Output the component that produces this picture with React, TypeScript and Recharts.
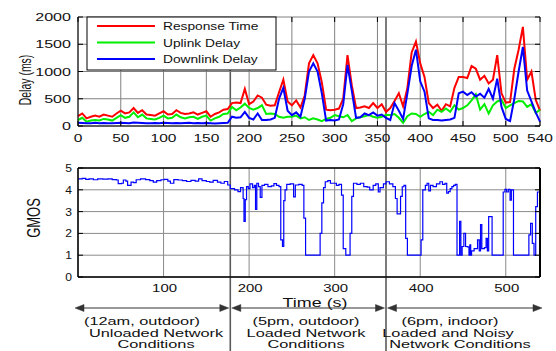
import React from 'react';
import { LineChart, Line, XAxis, YAxis, CartesianGrid } from 'recharts';

// delay traces are sampled every 5 s from 0 to 540 s
const SAMPLE_STEP = 5;

const responseTime = [
  180, 230, 140, 170, 190, 170, 210, 190, 170, 230, 280, 230, 250, 330, 240, 290, 210, 200,
  190, 230, 270, 210, 220, 290, 240, 220, 230, 250, 210, 240, 270, 170, 220, 250, 300, 310,
  420, 430, 420, 680, 400, 450, 560, 520, 390, 370, 380, 620, 850, 450, 380, 470, 340, 560,
  1150, 1300, 1150, 800, 300, 290, 300, 320, 500, 1300, 750, 330, 340, 360, 330, 420, 330, 400, 260,
  330, 460, 600, 360, 700, 1350, 1550, 1150, 900, 420, 330, 390, 280, 400, 360, 700, 900, 900,
  880, 1100, 1050, 850, 920, 780, 850, 1300, 600, 430, 440, 1050, 1400, 1820, 850, 1000, 480, 280,
];

const uplinkDelay = [
  110, 150, 80, 100, 110, 100, 130, 120, 100, 150, 200, 150, 170, 250, 160, 210, 140, 130,
  120, 150, 190, 140, 150, 210, 160, 140, 160, 170, 130, 170, 190, 100, 140, 170, 220, 230,
  350, 290, 340, 410, 330, 300, 330, 380, 220, 230, 220, 170, 150, 170, 170, 190, 140, 160,
  110, 140, 120, 90, 130, 150, 200, 180, 160, 200, 90, 140, 160, 180, 200, 170, 150, 170, 200,
  200, 220, 150, 60, 180, 230, 220, 170, 220, 260, 200, 300, 260, 320, 260, 380, 300, 330,
  380, 470, 580, 300, 400, 230, 380, 450, 480, 330, 380, 420, 460, 450, 350, 400, 240, 300,
];

const downlinkDelay = [
  60, 55, 50, 50, 60, 50, 55, 50, 50, 55, 60, 55, 50, 65, 60, 55, 50, 50,
  55, 50, 60, 55, 50, 55, 50, 55, 60, 50, 55, 50, 55, 50, 45, 50, 55, 60,
  170, 150, 160, 260, 150, 120, 230, 110, 110, 120, 150, 500, 700, 280, 200, 250, 170, 500,
  1000, 1150, 1000, 600, 100, 110, 100, 120, 400, 1120, 650, 150, 160, 230, 200, 250, 190, 210, 150,
  110, 420, 280, 130, 600, 1100, 1400, 820, 630, 140, 110, 110, 100, 110, 120, 150, 600, 630,
  570, 620, 540, 590, 520, 680, 500, 870, 350, 130, 90, 500, 1000, 1450, 650, 450, 250, 80,
];

// GMOS changes in steps: time (s) where each level starts, and the level
const gmosTime = [
  0, 5, 9, 13, 18, 23, 29, 35, 40, 45, 47, 51, 53, 56, 58, 62, 65, 68, 73, 79, 84, 88, 92, 97,
  101, 105, 108, 112, 117, 122, 127, 132, 137, 141, 145, 150, 154, 158, 163, 167, 171, 175, 178,
  183, 187, 190, 193, 194, 195.5, 197, 199, 201, 204, 206, 207.5, 209, 211, 213, 215, 218, 222,
  226, 229, 232, 235, 237, 239, 240.5, 242, 244, 248, 252, 254, 258, 262, 264, 266, 283, 285, 287,
  289, 292, 295, 299, 302, 305, 308, 310, 313, 318, 320, 322, 326, 330, 334, 338, 341, 345, 348,
  351, 353, 357, 360, 364, 368, 371, 373, 377, 379, 381, 383, 385, 401, 403, 406, 408, 410, 412,
  415, 419, 423, 426, 429, 431, 433, 435, 437, 439, 441, 443, 446, 447.5, 449, 451, 453, 455, 457,
  458, 459, 460, 463, 467, 469, 470.5, 472, 475, 477, 478.5, 480, 484, 497, 499, 501, 503, 505,
  506.5, 509, 527, 529, 531, 533, 535, 537, 540,
];

const gmosValue = [
  4.5, 4.52, 4.48, 4.5, 4.46, 4.5, 4.49, 4.5, 4.47, 4.45, 4.28, 4.3, 4.45, 4.4, 4.2, 4.35, 4.33,
  4.46, 4.5, 4.47, 4.42, 4.35, 4.42, 4.46, 4.48, 4.4, 4.3, 4.47, 4.45, 4.42, 4.38, 4.43, 4.4, 4.5,
  4.42, 4.38, 4.35, 4.43, 4.35, 4.3, 4.38, 4.22, 4.05, 4.0, 3.92, 4.1, 3.6, 2.55, 3.55, 4.15, 4.05,
  4.27, 4.1, 4.2, 3.1, 4.3, 4.15, 3.65, 4.2, 4.25, 4.15, 4.18, 4.28, 4.2, 4.15, 1.7, 1.4, 3.5, 4.0,
  4.25, 4.27, 3.68, 4.22, 4.25, 4.2, 2.7, 1.0, 2.0, 3.4, 4.1, 4.37, 4.42, 4.3, 4.3, 4.2, 4.25,
  3.76, 1.3, 1.0, 2.0, 3.7, 4.3, 4.25, 4.3, 4.15, 4.12, 4.0, 4.2, 4.27, 3.9, 4.1, 4.27, 4.37,
  4.27, 4.15, 3.6, 2.9, 3.7, 4.14, 4.2, 1.77, 1.0, 1.7, 4.0, 4.2, 4.3, 3.95, 4.2, 4.15, 4.27,
  4.37, 4.25, 4.3, 3.85, 3.92, 4.05, 4.15, 4.2, 4.25, 1.0, 2.55, 1.0, 1.4, 2.0, 1.4, 1.38, 1.0,
  1.47, 1.0, 1.2, 1.3, 1.7, 1.2, 2.4, 1.3, 1.35, 1.77, 1.2, 2.77, 1.0, 3.9, 4.02, 3.9, 4.02,
  3.53, 4.0, 1.0, 1.93, 2.46, 1.54, 1.0, 3.23, 3.9, 4.0,
];

const delayTicks = [0, 500, 1000, 1500, 2000];
const delayTimeTicks = [0, 50, 100, 150, 200, 250, 300, 350, 400, 450, 500, 540];
const gmosTicks = [0, 1, 2, 3, 4, 5];
const gmosTimeTicks = [100, 200, 300, 400, 500];

const seriesNames = ['Response Time', 'Uplink Delay', 'Downlink Delay'];
const seriesColors = ['#ff0000', '#00ee00', '#0000ff'];

// measurement periods (s) and their captions
const periodBounds = [0, 178, 360, 540];
const periodCaptions = [
  ['(12am, outdoor)', 'Unloaded Network', 'Conditions'],
  ['(5pm, outdoor)', 'Loaded Network', 'Conditions'],
  ['(6pm, indoor)', 'Loaded and Noisy', 'Network Conditions'],
];

// ---- layout ----
const FONT = '"Liberation Sans", Arial, Helvetica, sans-serif';
const W = 556;
const H = 351;
const PLOT_LEFT = 78;
const PLOT_RIGHT = 540;
const TOP_Y0 = 17;
const TOP_Y1 = 126;
const BOT_Y0 = 168;
const BOT_Y1 = 277;
const T_MAX = 540;
const ARROW_Y = 308;
const CAPTION_BASELINES = [325, 336.5, 348];
const CAPTION_X = [
  [142, 156, 156],
  [306, 306, 306],
  [450, 448, 460],
];

const xAt = (t: number) => PLOT_LEFT + (t / T_MAX) * (PLOT_RIGHT - PLOT_LEFT);

const delayRows = responseTime.map((v, i) => ({
  t: i * SAMPLE_STEP,
  response: v,
  uplink: uplinkDelay[i],
  downlink: downlinkDelay[i],
}));

const gmosRows = gmosTime.map((t, i) => ({ t, gmos: gmosValue[i] }));

type WideProps = {
  x: number;
  y: number;
  sx?: number;
  size?: number;
  anchor?: 'start' | 'middle' | 'end';
  vertical?: boolean;
  children: React.ReactNode;
};

// text drawn with a horizontal stretch
const Wide = ({ x, y, sx = 1.35, size = 12, anchor = 'middle', vertical = false, children }: WideProps) => (
  <text
    transform={`translate(${x},${y}) scale(${sx},1)${vertical ? ' rotate(-90)' : ''}`}
    fontSize={size}
    fontFamily={FONT}
    textAnchor={anchor}
    fill="#111"
  >
    {children}
  </text>
);

const DelayYTick = (p: any) => (
  <g>
    <Wide x={p.x - 7} y={p.y + 4} sx={1.4} size={11.5} anchor="end">{p.payload.value}</Wide>
    <line x1={p.x} x2={p.x + 5} y1={p.y} y2={p.y} stroke="#000" />
    <line x1={PLOT_RIGHT - 5} x2={PLOT_RIGHT} y1={p.y} y2={p.y} stroke="#000" />
  </g>
);

const DelayXTick = (p: any) => (
  <g>
    <Wide x={p.x} y={p.y + 15.5} sx={1.35} size={11.5}>{p.payload.value}</Wide>
    <line x1={p.x} x2={p.x} y1={TOP_Y1} y2={TOP_Y1 - 5} stroke="#000" />
    <line x1={p.x} x2={p.x} y1={TOP_Y0} y2={TOP_Y0 + 5} stroke="#000" />
  </g>
);

const GmosYTick = (p: any) => (
  <g>
    <Wide x={p.x - 6} y={p.y + 4} sx={1.1} size={11} anchor="end">{p.payload.value}</Wide>
    <line x1={p.x} x2={p.x + 5} y1={p.y} y2={p.y} stroke="#000" />
    <line x1={PLOT_RIGHT - 5} x2={PLOT_RIGHT} y1={p.y} y2={p.y} stroke="#000" />
  </g>
);

const GmosXTick = (p: any) => (
  <g>
    <Wide x={p.x + 1} y={p.y + 14.5} sx={1.3} size={11.5}>{p.payload.value}</Wide>
    <line x1={p.x} x2={p.x} y1={BOT_Y1} y2={BOT_Y1 - 5} stroke="#000" />
    <line x1={p.x} x2={p.x} y1={BOT_Y0} y2={BOT_Y0 + 5} stroke="#000" />
  </g>
);

const Arrow = ({ x1, x2, y }: { x1: number; x2: number; y: number }) => (
  <g fill="#333" stroke="#333">
    <line x1={x1 + 4} x2={x2 - 4} y1={y} y2={y} strokeWidth={1.2} />
    <polygon points={`${x1},${y} ${x1 + 9},${y - 3.5} ${x1 + 9},${y + 3.5}`} strokeWidth={0.5} />
    <polygon points={`${x2},${y} ${x2 - 9},${y - 3.5} ${x2 - 9},${y + 3.5}`} strokeWidth={0.5} />
  </g>
);

const App = () => {
  const lastPeriod = periodCaptions.length - 1;
  return (
    <div style={{ position: 'absolute', left: 0, top: 0, width: W, height: H, background: '#fff', overflow: 'hidden' }}>
      {/* period dividers behind the plots */}
      <svg width={W} height={H} style={{ position: 'absolute', left: 0, top: 0 }}>
        {periodBounds.slice(1, -1).map((t) => (
          <line key={t} x1={xAt(t)} x2={xAt(t)} y1={TOP_Y0} y2={H} stroke="#5a5a5a" strokeWidth={1.6} />
        ))}
      </svg>

      <div style={{ position: 'absolute', left: 0, top: 0 }}>
        <LineChart width={W} height={145} data={delayRows} margin={{ top: TOP_Y0, right: W - PLOT_RIGHT, left: 0, bottom: 0 }}>
          <CartesianGrid stroke="#808080" strokeWidth={1} />
          <XAxis
            dataKey="t"
            type="number"
            domain={[0, T_MAX]}
            ticks={delayTimeTicks}
            interval={0}
            height={19}
            tickSize={0}
            tickMargin={0}
            tickLine={false}
            axisLine={{ stroke: '#000' }}
            tick={(p: any) => <DelayXTick {...p} />}
          />
          <YAxis
            type="number"
            domain={[0, 2000]}
            ticks={delayTicks}
            interval={0}
            width={PLOT_LEFT}
            tickSize={0}
            tickMargin={0}
            tickLine={false}
            axisLine={{ stroke: '#000' }}
            tick={(p: any) => <DelayYTick {...p} />}
          />
          <Line dataKey="response" stroke={seriesColors[0]} strokeWidth={2} dot={false} isAnimationActive={false} />
          <Line dataKey="uplink" stroke={seriesColors[1]} strokeWidth={2} dot={false} isAnimationActive={false} />
          <Line dataKey="downlink" stroke={seriesColors[2]} strokeWidth={2} dot={false} isAnimationActive={false} />
        </LineChart>
      </div>

      <div style={{ position: 'absolute', left: 0, top: 150 }}>
        <LineChart width={W} height={150} data={gmosRows} margin={{ top: BOT_Y0 - 150, right: W - PLOT_RIGHT, left: 0, bottom: 0 }}>
          <CartesianGrid stroke="#8a8a8a" strokeWidth={1} />
          <XAxis
            dataKey="t"
            type="number"
            domain={[0, T_MAX]}
            ticks={gmosTimeTicks}
            interval={0}
            height={23}
            tickSize={0}
            tickMargin={0}
            tickLine={false}
            axisLine={{ stroke: '#000', strokeWidth: 1.5 }}
            tick={(p: any) => <GmosXTick {...p} />}
          />
          <YAxis
            type="number"
            domain={[0, 5]}
            ticks={gmosTicks}
            interval={0}
            width={PLOT_LEFT}
            tickSize={0}
            tickMargin={0}
            tickLine={false}
            axisLine={{ stroke: '#000', strokeWidth: 1.5 }}
            tick={(p: any) => <GmosYTick {...p} />}
          />
          <Line type="stepAfter" dataKey="gmos" stroke="#0000ff" strokeWidth={1.2} dot={false} isAnimationActive={false} />
        </LineChart>
      </div>

      <svg width={W} height={H} style={{ position: 'absolute', left: 0, top: 0 }}>
        {/* GMOS box: top and right edges */}
        <line x1={PLOT_LEFT} x2={PLOT_RIGHT} y1={BOT_Y0} y2={BOT_Y0} stroke="#000" strokeWidth={1.5} />
        <line x1={PLOT_RIGHT} x2={PLOT_RIGHT} y1={BOT_Y0} y2={BOT_Y1} stroke="#000" strokeWidth={2} />

        {/* legend */}
        <rect x={87} y={TOP_Y0} width={189} height={53} fill="#fff" stroke="#000" strokeWidth={1} />
        {seriesNames.map((name, i) => {
          const y = 26 + i * 16.5;
          return (
            <g key={name}>
              <line x1={97} x2={155} y1={y} y2={y} stroke={seriesColors[i]} strokeWidth={2} />
              <Wide x={163} y={y + 4} sx={1.25} size={11} anchor="start">{name}</Wide>
            </g>
          );
        })}

        {/* axis titles */}
        <Wide x={31} y={80} sx={1.6} size={10.5} vertical>Delay (ms)</Wide>
        <Wide x={40} y={218} sx={1.35} size={13} vertical>GMOS</Wide>
        <Wide x={315} y={307} sx={1.38} size={13}>Time (s)</Wide>

        {/* period arrows and captions */}
        {periodCaptions.map((lines, i) => {
          const x1 = i === 0 ? xAt(periodBounds[i]) - 3 : xAt(periodBounds[i]) + 1.5;
          const x2 = i === lastPeriod ? xAt(periodBounds[i + 1]) + 2 : xAt(periodBounds[i + 1]) - 1.5;
          return (
            <g key={i}>
              <Arrow x1={x1} x2={x2} y={ARROW_Y} />
              {lines.map((s, j) => (
                <Wide key={j} x={CAPTION_X[i][j]} y={CAPTION_BASELINES[j]} sx={1.42} size={11.5}>{s}</Wide>
              ))}
            </g>
          );
        })}
      </svg>
    </div>
  );
};

export default App;
